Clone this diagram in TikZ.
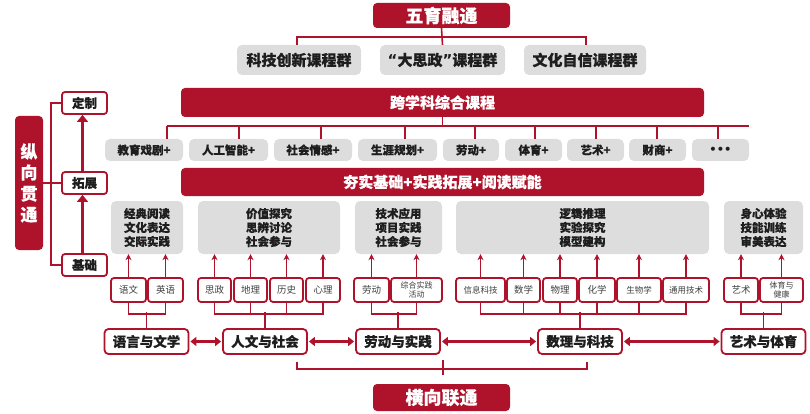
\documentclass[tikz,border=0pt]{standalone}
\usepackage{fontspec}
\setmainfont{Noto Sans CJK SC}[BoldFeatures={FakeBold=0.4}]
\newfontfamily\dejavu{DejaVu Sans}
\usepackage{tikz}
\usetikzlibrary{arrows.meta,positioning}

\tikzset{
  redbar/.style={fill=zred, text=white, rounded corners=4pt, inner sep=0pt,
    font=\bfseries\fontsize{15}{17}\selectfont},
  greybox/.style={fill=zgrey, text=ztext, rounded corners=5pt, inner sep=0pt,
    align=center, font=\bfseries\fontsize{11.5}{14}\selectfont},
  subj/.style={draw=zred, line width=1.8pt, fill=white, rounded corners=3pt,
    inner sep=0pt, minimum height=24pt, text=ztext!85, align=center,
    font=\fontsize{9.5}{11}\selectfont},
  catbox/.style={draw=zred, line width=1.8pt, fill=white, rounded corners=4pt,
    inner sep=0pt, minimum width=84pt, minimum height=25pt, text=ztext,
    font=\bfseries\fontsize{13.5}{15}\selectfont},
  lvlbox/.style={draw=zred, line width=1.8pt, fill=white, rounded corners=3pt,
    inner sep=0pt, minimum width=45pt, minimum height=22pt, text=ztext,
    font=\bfseries\fontsize{12.5}{15}\selectfont},
  zlink/.style={draw=zred, line width=1.6pt},
  upto/.style={zlink, -{Stealth[length=6pt,width=6pt]}},
  duoarrow/.style={draw=zred, line width=3pt,
    {Triangle[length=6pt,width=9pt]}-{Triangle[length=6pt,width=9pt]}},
  uparrow/.style={draw=zred, line width=3.8pt, -{Triangle[length=7pt,width=11pt]}},
}

\begin{document}
\begin{tikzpicture}[x=1pt,y=-1pt]
    \definecolor{zred}{RGB}{175,18,43}
    \definecolor{zgrey}{RGB}{221,221,221}
    \definecolor{ztext}{RGB}{30,30,30}
    \useasboundingbox (0,0) rectangle (810,414);

    % top: course groups
    \node[redbar, minimum width=137pt, minimum height=25pt,
          font=\bfseries\fontsize{18}{20}\selectfont] (wuyu) at (441.5,15.5) {五育融通};
    \node[greybox, minimum width=124pt, minimum height=30pt,
          font=\bfseries\fontsize{15}{17}\selectfont] (kc1) at (299,60) {科技创新课程群};
    \node[greybox, minimum width=125pt, minimum height=30pt,
          font=\bfseries\fontsize{15}{17}\selectfont] (kc2) at (442.5,60) {{\dejavu “}大思政{\dejavu ”}课程群};
    \node[greybox, minimum width=122pt, minimum height=30pt,
          font=\bfseries\fontsize{15}{17}\selectfont] (kc3) at (585,60) {文化自信课程群};
    \draw[zlink] (wuyu.south) -- (kc2.north);
    \draw[zlink] ([xshift=-2pt]kc1.north) -- ++(0,-8) -| ([xshift=1pt]kc3.north);

    % interdisciplinary
    \node[redbar, minimum width=523pt, minimum height=29pt] (kua) at (442.5,102.5) {跨学科综合课程};
    \node[greybox, minimum width=78pt, minimum height=22pt] (p1) at (144,150) {教育戏剧+};
    \node[greybox, minimum width=79pt, minimum height=22pt] (p2) at (228.5,150) {人工智能+};
    \node[greybox, minimum width=78pt, minimum height=22pt] (p3) at (313,150) {社会情感+};
    \node[greybox, minimum width=79pt, minimum height=22pt] (p4) at (397.5,150) {生涯规划+};
    \node[greybox, minimum width=56pt, minimum height=22pt] (p5) at (471,150) {劳动+};
    \node[greybox, minimum width=57pt, minimum height=22pt] (p6) at (533.5,150) {体育+};
    \node[greybox, minimum width=57pt, minimum height=22pt] (p7) at (595.5,150) {艺术+};
    \node[greybox, minimum width=57pt, minimum height=22pt] (p8) at (657.5,150) {财商+};
    \node[greybox, minimum width=57pt, minimum height=22pt] (p9) at (720.5,150) {\dejavu\bfseries •••};
    \coordinate (kend) at (749,126);
    \foreach \x [count=\i] in {167,239,321,405,475,535,596,657,718}
        {\coordinate (d\i) at (\x,126);
         \draw[zlink] (d\i) -- (d\i |- p\i.north);}
    \draw[zlink] (kua.south) -- (kua.south |- kend);
    \draw[zlink] (d1) -- (kend);

    \node[redbar, minimum width=523pt, minimum height=28pt] (hang) at (442.5,182) {夯实基础+实践拓展+阅读赋能};

    % abilities
    \node[greybox, minimum width=72pt, minimum height=53pt] (g1) at (147,227.5) {经典阅读\\文化表达\\交际实践};
    \node[greybox, minimum width=142pt, minimum height=53pt] (g2) at (269,227.5) {价值探究\\思辨讨论\\社会参与};
    \node[greybox, minimum width=87pt, minimum height=53pt] (g3) at (398.5,227.5) {技术应用\\项目实践\\社会参与};
    \node[greybox, minimum width=253pt, minimum height=53pt] (g4) at (582.5,227.5) {逻辑推理\\实验探究\\模型建构};
    \node[greybox, minimum width=79pt, minimum height=53pt] (g5) at (763.5,227.5) {身心体验\\技能训练\\审美表达};

    % subjects
    \node[subj, minimum width=35pt] (s1) at (128.5,290) {语文};
    \node[subj, minimum width=35pt] (s2) at (165.5,290) {英语};
    \node[subj, minimum width=33pt] (s3) at (214.5,290) {思政};
    \node[subj, minimum width=33pt] (s4) at (250.5,290) {地理};
    \node[subj, minimum width=33pt] (s5) at (286.5,290) {历史};
    \node[subj, minimum width=34pt] (s6) at (323,290) {心理};
    \node[subj, minimum width=35pt] (s7) at (371.5,290) {劳动};
    \node[subj, minimum width=51pt, font=\fontsize{8}{9.5}\selectfont] (s8) at (416.5,290) {综合实践\\活动};
    \node[subj, minimum width=49pt, font=\fontsize{8.5}{10}\selectfont] (s9) at (480.5,290) {信息科技};
    \node[subj, minimum width=33pt] (s10) at (523.5,290) {数学};
    \node[subj, minimum width=34pt] (s11) at (560,290) {物理};
    \node[subj, minimum width=36pt] (s12) at (597,290) {化学};
    \node[subj, minimum width=44pt, font=\fontsize{8.5}{10}\selectfont] (s13) at (639,290) {生物学};
    \node[subj, minimum width=46pt, font=\fontsize{8.5}{10}\selectfont] (s14) at (686,290) {通用技术};
    \node[subj, minimum width=34pt] (s15) at (741,290) {艺术};
    \node[subj, minimum width=43pt, font=\fontsize{8}{9.5}\selectfont] (s16) at (781.5,290) {体育与\\健康};

    \foreach \s/\g in {s1/g1,s2/g1,s3/g2,s4/g2,s5/g2,s6/g2,s7/g3,s8/g3,
                       s9/g4,s10/g4,s11/g4,s12/g4,s13/g4,s14/g4,s15/g5,s16/g5}
        \draw[upto] (\s.north) -- (\s.north |- \g.south);

    % subject groups
    \node[catbox] (c1) at (146.5,341.5) {语言与文学};
    \node[catbox] (c2) at (265,341.5) {人文与社会};
    \node[catbox] (c3) at (398,341.5) {劳动与实践};
    \node[catbox] (c4) at (580,341.5) {数理与科技};
    \node[catbox] (c5) at (763.5,341.5) {艺术与体育};

    \draw[zlink] (s1.south) -- ++(0,11) -| (s2.south);
    \draw[zlink] (s3.south) -- ++(0,11) -| (s6.south);
    \draw[zlink] (s4.south) -- ++(0,11);
    \draw[zlink] (s5.south) -- ++(0,11);
    \draw[zlink] (s7.south) -- ++(0,11) -| (s8.south);
    \draw[zlink] (s9.south) -- ++(0,11) -| (s14.south);
    \foreach \s in {s10,s11,s12,s13}
        \draw[zlink] (\s.south) -- ++(0,11);
    \draw[zlink] (s15.south) -- ++(0,11) -| (s16.south);
    \foreach \c in {c1,c2,c3,c4,c5}
        \draw[zlink] (\c.north) -- ++(0,-16);

    \draw[duoarrow, shorten <=1pt, shorten >=1pt] (c1) -- (c2);
    \draw[duoarrow, shorten <=1pt, shorten >=1pt] (c2) -- (c3);
    \draw[duoarrow, shorten <=1pt, shorten >=1pt] (c3) -- (c4);
    \draw[duoarrow, shorten <=1pt, shorten >=1pt] (c4) -- (c5);

    % horizontal link
    \node[redbar, minimum width=137pt, minimum height=27pt,
          font=\bfseries\fontsize{18}{20}\selectfont] (heng) at (441.5,397.5) {横向联通};
    \draw[zlink] ([xshift=32pt,yshift=-7pt]c2.south) -- ++(0,7)
                -| ([xshift=7pt,yshift=-7pt]c4.south);
    \draw[zlink] ([xshift=1.5pt,yshift=9pt]heng.north) -- ++(0,-15);

    % vertical link
    \node[redbar, minimum width=28pt, minimum height=134pt, align=center,
          font=\bfseries\fontsize{17}{21}\selectfont] (zong) at (29,183) {纵\\向\\贯\\通};
    \node[lvlbox] (ding) at (84.5,103) {定制};
    \node[lvlbox] (tuo) at (84.5,183) {拓展};
    \node[lvlbox] (ji) at (84.5,265) {基础};
    \draw[zlink] (ding.west) -- ++(-10,0) |- (ji.west);
    \draw[zlink] (zong.east) -- (tuo.west);
    \draw[uparrow] ([xshift=-2pt]ji.north) -- ([xshift=-2pt]tuo.south);
    \draw[uparrow] ([xshift=-2pt]tuo.north) -- ([xshift=-2pt]ding.south);
\end{tikzpicture}
\end{document}
